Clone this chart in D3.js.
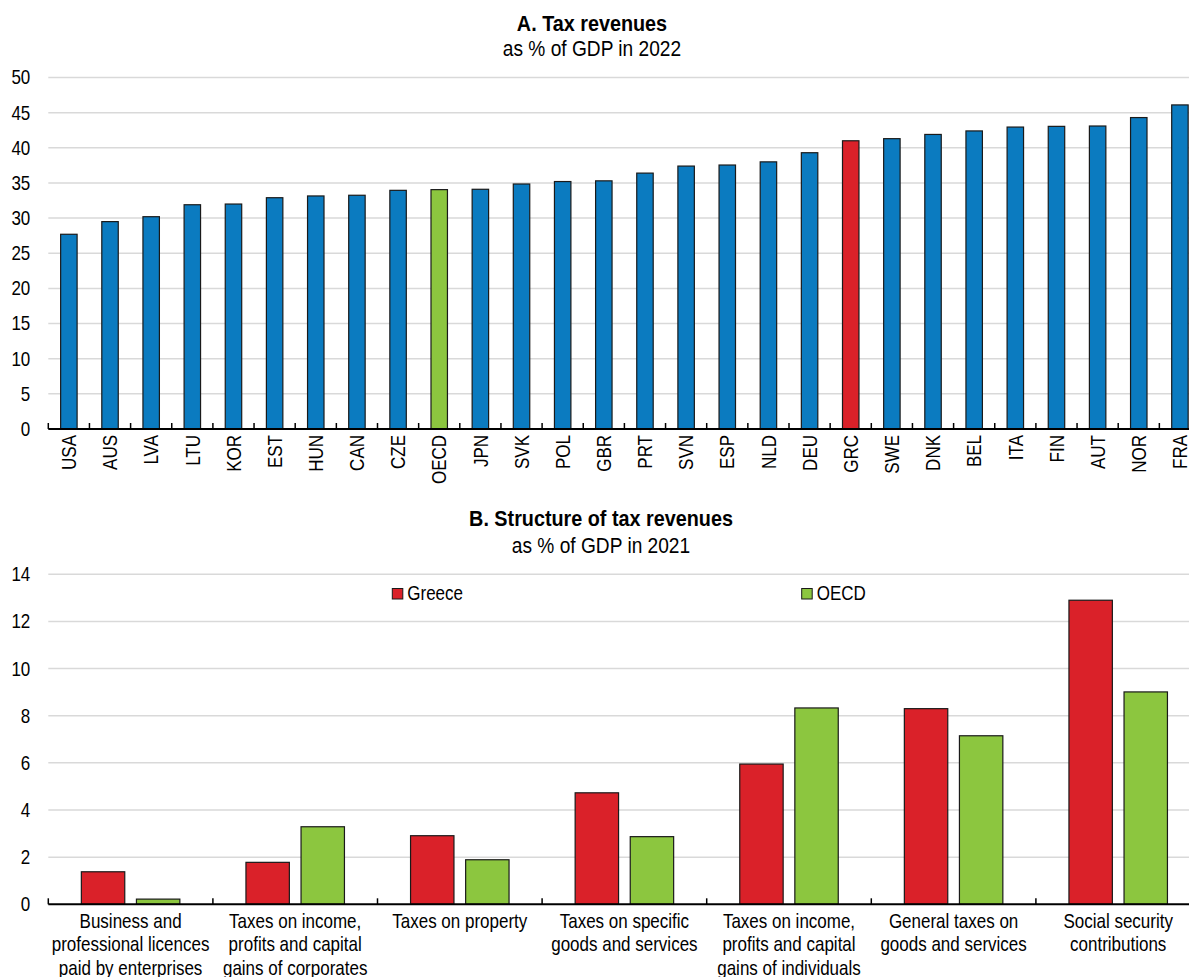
<!DOCTYPE html>
<html>
<head>
<meta charset="utf-8">
<script src="https://cdn.jsdelivr.net/npm/d3@7"></script>
<style>
  html, body { margin: 0; padding: 0; background: #fff; }
  svg { display: block; }
  text { font-family: "Liberation Sans", Arial, sans-serif; fill: #000; }
</style>
</head>
<body>
<svg id="chart" width="1189" height="977"></svg>
<script>
// ---------- Panel A data ----------
const countries = ["USA","AUS","LVA","LTU","KOR","EST","HUN","CAN","CZE","OECD","JPN","SVK","POL","GBR","PRT","SVN","ESP","NLD","DEU","GRC","SWE","DNK","BEL","ITA","FIN","AUT","NOR","FRA"];
const taxRevenue2022 = [27.7,29.5,30.2,31.9,32.0,32.9,33.15,33.25,33.95,34.05,34.1,34.85,35.2,35.3,36.4,37.4,37.55,38.0,39.3,41.0,41.3,41.9,42.4,42.95,43.05,43.1,44.3,46.1];
const yTicksA = [0,5,10,15,20,25,30,35,40,45,50];

// ---------- Panel B data ----------
const taxCategories = [
  "Business and|professional licences|paid by enterprises",
  "Taxes on income,|profits and capital|gains of corporates",
  "Taxes on property",
  "Taxes on specific|goods and services",
  "Taxes on income,|profits and capital|gains of individuals",
  "General taxes on|goods and services",
  "Social security|contributions"
];
const seriesNames = ["Greece","OECD"];
const greeceValues = [1.38,1.78,2.91,4.73,5.95,8.30,12.9];
const oecdValues   = [0.22,3.29,1.89,2.87,8.33,7.15,9.01];
const yTicksB = [0,2,4,6,8,10,12,14];

// ---------- styles ----------
const BLUE = "#0b7bc0", RED = "#da2129", GREEN = "#8cc63f";
const GRID = "#d9d9d9";
const NARROW = 0.85, TITLE_N = 0.9, SUB_N = 0.87;
const svg = d3.select("#chart");
const plotLeft = 48.3, plotRight = 1200.5;

// horizontally condense a text around its x anchor (emulates a narrow face)
function squeeze(sel, s) {
  sel.each(function() {
    const t = d3.select(this);
    const x = +t.attr("x") || 0;
    t.attr("transform", `translate(${x},0) scale(${s},1) translate(${-x},0)`);
  });
}

// ================= Panel A =================
const yA = d3.scaleLinear().domain([0, 50]).range([429, 77.5]);
const xA = d3.scaleBand().domain(countries).range([plotLeft, plotRight])
  .paddingInner(0.6).paddingOuter(0.3);

const gA = svg.append("g");
gA.append("g").selectAll("line").data(yTicksA.filter(d => d > 0)).join("line")
  .attr("x1", plotLeft).attr("x2", plotRight)
  .attr("y1", d => yA(d)).attr("y2", d => yA(d))
  .attr("stroke", GRID).attr("stroke-width", 1.5);
const yAxisA = gA.append("g").attr("transform", `translate(${plotLeft},0)`)
  .call(d3.axisLeft(yA).tickValues(yTicksA).tickSize(0).tickPadding(18));
yAxisA.select(".domain").remove();
yAxisA.selectAll("text").style("font-size", "20px").attr("fill", "#000");
squeeze(yAxisA.selectAll("text"), NARROW);

gA.append("g").selectAll("rect").data(countries).join("rect")
  .attr("x", d => xA(d))
  .attr("width", xA.bandwidth())
  .attr("y", (d, i) => yA(taxRevenue2022[i]))
  .attr("height", (d, i) => yA(0) - yA(taxRevenue2022[i]))
  .attr("fill", d => d === "GRC" ? RED : d === "OECD" ? GREEN : BLUE)
  .attr("stroke", "#1a1a1a").attr("stroke-width", 1.2);

const stepA = xA.step();
gA.append("g").selectAll("line").data(d3.range(countries.length)).join("line")
  .attr("x1", i => plotLeft + i * stepA).attr("x2", i => plotLeft + i * stepA)
  .attr("y1", yA(0)).attr("y2", yA(0) - 6)
  .attr("stroke", "#000").attr("stroke-width", 1.5);
gA.append("line").attr("x1", plotLeft).attr("x2", plotRight)
  .attr("y1", yA(0)).attr("y2", yA(0)).attr("stroke", "#000").attr("stroke-width", 2);

gA.append("g").selectAll("text").data(countries).join("text")
  .attr("transform", d => `translate(${xA(d) + xA.bandwidth() / 2},435) rotate(-90) scale(${NARROW},1)`)
  .attr("text-anchor", "end")
  .attr("dy", "0.36em")
  .style("font-size", "20px")
  .text(d => d);

const tA = svg.append("text").attr("x", 592).attr("y", 31).attr("text-anchor", "middle")
  .style("font-size", "22px").style("font-weight", "bold").text("A. Tax revenues");
squeeze(tA, TITLE_N);
const sA = svg.append("text").attr("x", 592).attr("y", 56).attr("text-anchor", "middle")
  .style("font-size", "22px").text("as % of GDP in 2022");
squeeze(sA, SUB_N);

// ================= Panel B =================
const yB = d3.scaleLinear().domain([0, 14]).range([904.3, 574.3]);
const xB = d3.scaleBand().domain(taxCategories).range([plotLeft, plotRight]).padding(0);
const xInner = d3.scaleBand().domain(seriesNames).range([0, xB.step()])
  .paddingInner(0.212).paddingOuter(0.6);
const colorB = d3.scaleOrdinal().domain(seriesNames).range([RED, GREEN]);

const gB = svg.append("g");
gB.append("g").selectAll("line").data(yTicksB.filter(d => d > 0)).join("line")
  .attr("x1", plotLeft).attr("x2", plotRight)
  .attr("y1", d => yB(d)).attr("y2", d => yB(d))
  .attr("stroke", GRID).attr("stroke-width", 1.5);
const yAxisB = gB.append("g").attr("transform", `translate(${plotLeft},0)`)
  .call(d3.axisLeft(yB).tickValues(yTicksB).tickSize(0).tickPadding(18));
yAxisB.select(".domain").remove();
yAxisB.selectAll("text").style("font-size", "20px").attr("fill", "#000");
squeeze(yAxisB.selectAll("text"), NARROW);

const rows = taxCategories.map((c, i) => ({cat: c, vals: [
  {name: "Greece", v: greeceValues[i]}, {name: "OECD", v: oecdValues[i]}]}));
gB.append("g").selectAll("g").data(rows).join("g")
  .attr("transform", d => `translate(${xB(d.cat)},0)`)
  .selectAll("rect").data(d => d.vals).join("rect")
  .attr("x", d => xInner(d.name))
  .attr("width", xInner.bandwidth())
  .attr("y", d => yB(d.v))
  .attr("height", d => yB(0) - yB(d.v))
  .attr("fill", d => colorB(d.name))
  .attr("stroke", "#1a1a1a").attr("stroke-width", 1.2);

const stepB = xB.step();
gB.append("g").selectAll("line").data(d3.range(taxCategories.length)).join("line")
  .attr("x1", i => plotLeft + i * stepB).attr("x2", i => plotLeft + i * stepB)
  .attr("y1", yB(0)).attr("y2", yB(0) - 6)
  .attr("stroke", "#000").attr("stroke-width", 1.5);
gB.append("line").attr("x1", plotLeft).attr("x2", plotRight)
  .attr("y1", yB(0)).attr("y2", yB(0)).attr("stroke", "#000").attr("stroke-width", 2);

const lblB = gB.append("g").selectAll("text").data(taxCategories).join("text")
  .attr("text-anchor", "middle")
  .attr("x", d => xB(d) + xB.bandwidth() / 2)
  .style("font-size", "20px");
lblB.each(function(d) {
  const t = d3.select(this);
  const cx = xB(d) + xB.bandwidth() / 2;
  d.split("|").forEach((line, k) => {
    t.append("tspan").attr("x", cx).attr("y", 928 + k * 23.4).text(line);
  });
});
squeeze(lblB, NARROW);

const legendX = [392.3, 801.7];
const leg = svg.append("g").selectAll("g").data(seriesNames).join("g")
  .attr("transform", (d, i) => `translate(${legendX[i]},588.5)`);
leg.append("rect").attr("width", 10.5).attr("height", 10.5)
  .attr("fill", d => colorB(d)).attr("stroke", "#1a1a1a").attr("stroke-width", 1);
const legT = leg.append("text").attr("x", 15).attr("y", 11.5).style("font-size", "20px").text(d => d);
squeeze(legT, NARROW);

const tB = svg.append("text").attr("x", 601).attr("y", 526).attr("text-anchor", "middle")
  .style("font-size", "22px").style("font-weight", "bold").text("B. Structure of tax revenues");
squeeze(tB, TITLE_N);
const sB = svg.append("text").attr("x", 601).attr("y", 553).attr("text-anchor", "middle")
  .style("font-size", "22px").text("as % of GDP in 2021");
squeeze(sB, SUB_N);
</script>
</body>
</html>
